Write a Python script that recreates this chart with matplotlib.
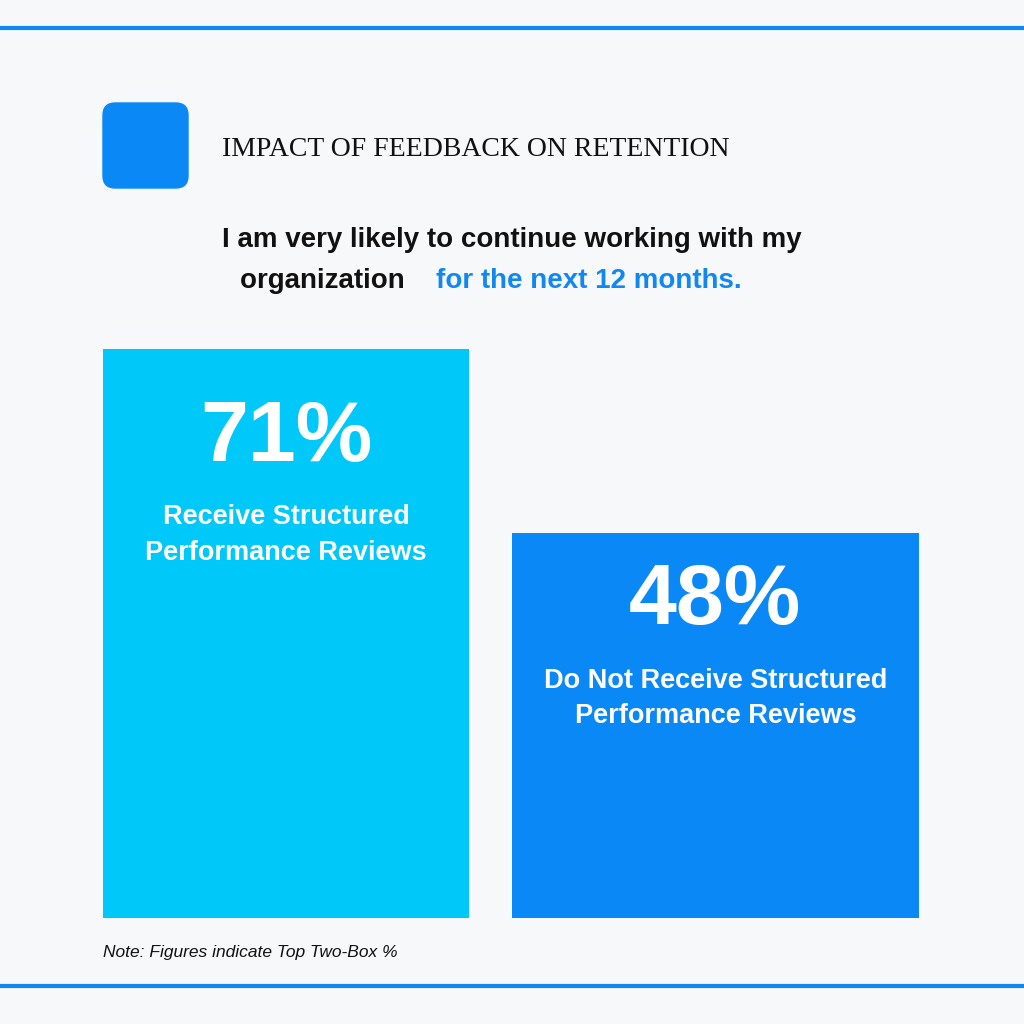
import matplotlib
matplotlib.use("Agg")
import matplotlib.pyplot as plt
from matplotlib.patches import FancyBboxPatch

categories = ["Receive Structured\nPerformance Reviews", "Do Not Receive Structured\nPerformance Reviews"]
values = [71, 48]
colors = ["#00C8F8", "#0A88F5"]
widths = [0.853, 0.949]
pct_off = [-90, -69]   # px below bar top
lab_off = [-186, -165]

W = H = 1024
fig = plt.figure(figsize=(10.24, 10.24), dpi=100, facecolor="#F7F8FA")
px = lambda v: v / 100 * 72  # px -> pt

# frame lines
fig.add_artist(plt.Line2D([0, 1], [1 - 28 / H] * 2, color="#1188F0", lw=3))
fig.add_artist(plt.Line2D([0, 1], [1 - 986 / H] * 2, color="#1188F0", lw=3))
# square icon
fig.add_artist(FancyBboxPatch((103 / W, 1 - 188 / H), 85 / W, 85 / H,
                              boxstyle="round,pad=0,rounding_size=0.012",
                              transform=fig.transFigure, color="#0A88F5"))
fig.text(222 / W, 1 - 150 / H, "IMPACT OF FEEDBACK ON RETENTION", family="Liberation Serif",
         fontsize=20, va="center", ha="left", color="#111111")
fig.text(0.5, 1 - 240 / H, "I am very likely to continue working with my", family="Liberation Sans",
         fontweight="bold", fontsize=20, ha="center", va="center", color="#111111")
t1 = fig.text(240 / W, 1 - 281 / H, "organization ", family="Liberation Sans",
              fontweight="bold", fontsize=20, ha="left", va="center", color="#111111")
fig.text(436 / W, 1 - 281 / H, "for the next 12 months.", family="Liberation Sans",
         fontweight="bold", fontsize=20, ha="left", va="center", color="#1188F0")

ax = fig.add_axes([103 / W, 1 - 918 / H, (919 - 103) / W, (918 - 349) / H])
ax.set_facecolor("none")
x = [0, 1]
ax.bar(x, values, width=widths, color=colors)
ax.set_xlim(-0.4265, 1.4745)
ax.set_ylim(0, 71)
ax.axis("off")
for i, v in enumerate(values):
    ax.annotate(f"{v}%", (x[i], v), xytext=(0, px(pct_off[i])), textcoords="offset points",
                ha="center", va="center", color="white", fontsize=62, fontweight="bold",
                family="Liberation Sans")
    ax.annotate(categories[i], (x[i], v), xytext=(0, px(lab_off[i])), textcoords="offset points",
                ha="center", va="center", color="white", fontsize=19.5, fontweight="bold",
                family="Liberation Sans", linespacing=1.45)

fig.text(103 / W, 1 - 952 / H, "Note: Figures indicate Top Two-Box %", family="Liberation Sans",
         style="italic", fontsize=12.5, ha="left", va="center", color="#111111")
fig.savefig("out.png", dpi=100, facecolor=fig.get_facecolor())
